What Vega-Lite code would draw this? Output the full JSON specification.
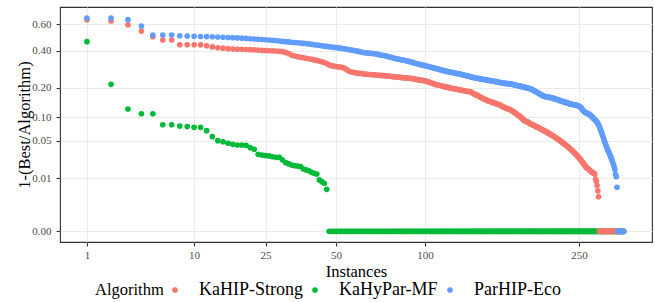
{
"$schema":"https://vega.github.io/schema/vega-lite/v6.json",
"width":592,"height":235,
"autosize":{"type":"none"},
"padding":{"left":60,"top":7,"right":3,"bottom":60},
"background":"white",
"config":{
"view":{"stroke":"#333333","strokeWidth":1.1},
"font":"Liberation Serif",
"axis":{"labelFont":"Liberation Serif","labelFontSize":11,"labelColor":"#4D4D4D","titleFont":"Liberation Serif","titleFontSize":16.5,"titleFontWeight":"normal","titleColor":"#000000","tickColor":"#333333","tickSize":4,"tickWidth":1.1,"domain":false,"grid":true,"gridColor":"#EBEBEB","gridWidth":1.1,"labelFlush":false,"labelOverlap":false},
"axisX":{"labelPadding":3,"titlePadding":3},
"axisY":{"labelPadding":5,"titlePadding":-1},
"legend":{"orient":"none","legendX":35,"legendY":274,"direction":"horizontal","titleOrient":"left","titleFont":"Liberation Serif","titleFontSize":16.5,"titleFontWeight":"normal","titleColor":"#000000","labelFont":"Liberation Serif","labelFontSize":18,"labelColor":"#000000","symbolType":"circle","symbolSize":32,"symbolStrokeWidth":0,"symbolOpacity":1,"labelOffset":15,"columnPadding":3,"titlePadding":2,"padding":0}
},
"datasets":{
"KaHyPar-MF":[{"i":1,"v":0.462},{"i":2,"v":0.215},{"i":3,"v":0.124},{"i":4,"v":0.110},{"i":5,"v":0.110},{"i":6,"v":0.082},{"i":7,"v":0.082},{"i":8,"v":0.079},{"i":9,"v":0.0778},{"i":10,"v":0.0762},{"i":11,"v":0.0762},{"i":12,"v":0.069},{"i":13,"v":0.0574},{"i":14,"v":0.0504},{"i":15,"v":0.0487},{"i":16,"v":0.0462},{"i":17,"v":0.0446},{"i":18,"v":0.0436},{"i":19,"v":0.0436},{"i":20,"v":0.043},{"i":21,"v":0.0396},{"i":22,"v":0.0374},{"i":23,"v":0.0309},{"i":24,"v":0.0301},{"i":25,"v":0.0294},{"i":26,"v":0.029},{"i":27,"v":0.0281},{"i":28,"v":0.0274},{"i":29,"v":0.0274},{"i":30,"v":0.0246},{"i":31,"v":0.0219},{"i":32,"v":0.0207},{"i":33,"v":0.0197},{"i":34,"v":0.0191},{"i":35,"v":0.0188},{"i":36,"v":0.0183},{"i":37,"v":0.0164},{"i":38,"v":0.0157},{"i":39,"v":0.015},{"i":40,"v":0.0139},{"i":41,"v":0.0132},{"i":42,"v":0.01275},{"i":43,"v":0.0092},{"i":44,"v":0.0083},{"i":45,"v":0.0075},{"i":46,"v":0.005},
{"i":47,"v":0},{"i":48,"v":0},{"i":49,"v":0},{"i":50,"v":0},{"i":51,"v":0},{"i":52,"v":0},{"i":53,"v":0},{"i":54,"v":0},{"i":55,"v":0},{"i":56,"v":0},{"i":57,"v":0},{"i":58,"v":0},{"i":59,"v":0},{"i":60,"v":0},{"i":61,"v":0},{"i":62,"v":0},{"i":63,"v":0},{"i":64,"v":0},{"i":65,"v":0},{"i":66,"v":0},{"i":67,"v":0},{"i":68,"v":0},{"i":69,"v":0},{"i":70,"v":0},{"i":71,"v":0},{"i":72,"v":0},{"i":73,"v":0},{"i":74,"v":0},{"i":75,"v":0},{"i":76,"v":0},{"i":77,"v":0},{"i":78,"v":0},{"i":79,"v":0},{"i":80,"v":0},{"i":81,"v":0},{"i":82,"v":0},{"i":83,"v":0},{"i":84,"v":0},{"i":85,"v":0},{"i":86,"v":0},{"i":87,"v":0},{"i":88,"v":0},{"i":89,"v":0},{"i":90,"v":0},{"i":91,"v":0},{"i":92,"v":0},{"i":93,"v":0},{"i":94,"v":0},{"i":95,"v":0},{"i":96,"v":0},{"i":97,"v":0},{"i":98,"v":0},{"i":99,"v":0},{"i":100,"v":0},
{"i":101,"v":0},{"i":102,"v":0},{"i":103,"v":0},{"i":104,"v":0},{"i":105,"v":0},{"i":106,"v":0},{"i":107,"v":0},{"i":108,"v":0},{"i":109,"v":0},{"i":110,"v":0},{"i":111,"v":0},{"i":112,"v":0},{"i":113,"v":0},{"i":114,"v":0},{"i":115,"v":0},{"i":116,"v":0},{"i":117,"v":0},{"i":118,"v":0},{"i":119,"v":0},{"i":120,"v":0},{"i":121,"v":0},{"i":122,"v":0},{"i":123,"v":0},{"i":124,"v":0},{"i":125,"v":0},{"i":126,"v":0},{"i":127,"v":0},{"i":128,"v":0},{"i":129,"v":0},{"i":130,"v":0},{"i":131,"v":0},{"i":132,"v":0},{"i":133,"v":0},{"i":134,"v":0},{"i":135,"v":0},{"i":136,"v":0},{"i":137,"v":0},{"i":138,"v":0},{"i":139,"v":0},{"i":140,"v":0},{"i":141,"v":0},{"i":142,"v":0},{"i":143,"v":0},{"i":144,"v":0},{"i":145,"v":0},{"i":146,"v":0},{"i":147,"v":0},{"i":148,"v":0},{"i":149,"v":0},{"i":150,"v":0},
{"i":151,"v":0},{"i":152,"v":0},{"i":153,"v":0},{"i":154,"v":0},{"i":155,"v":0},{"i":156,"v":0},{"i":157,"v":0},{"i":158,"v":0},{"i":159,"v":0},{"i":160,"v":0},{"i":161,"v":0},{"i":162,"v":0},{"i":163,"v":0},{"i":164,"v":0},{"i":165,"v":0},{"i":166,"v":0},{"i":167,"v":0},{"i":168,"v":0},{"i":169,"v":0},{"i":170,"v":0},{"i":171,"v":0},{"i":172,"v":0},{"i":173,"v":0},{"i":174,"v":0},{"i":175,"v":0},{"i":176,"v":0},{"i":177,"v":0},{"i":178,"v":0},{"i":179,"v":0},{"i":180,"v":0},{"i":181,"v":0},{"i":182,"v":0},{"i":183,"v":0},{"i":184,"v":0},{"i":185,"v":0},{"i":186,"v":0},{"i":187,"v":0},{"i":188,"v":0},{"i":189,"v":0},{"i":190,"v":0},{"i":191,"v":0},{"i":192,"v":0},{"i":193,"v":0},{"i":194,"v":0},{"i":195,"v":0},{"i":196,"v":0},{"i":197,"v":0},{"i":198,"v":0},{"i":199,"v":0},{"i":200,"v":0},
{"i":201,"v":0},{"i":202,"v":0},{"i":203,"v":0},{"i":204,"v":0},{"i":205,"v":0},{"i":206,"v":0},{"i":207,"v":0},{"i":208,"v":0},{"i":209,"v":0},{"i":210,"v":0},{"i":211,"v":0},{"i":212,"v":0},{"i":213,"v":0},{"i":214,"v":0},{"i":215,"v":0},{"i":216,"v":0},{"i":217,"v":0},{"i":218,"v":0},{"i":219,"v":0},{"i":220,"v":0},{"i":221,"v":0},{"i":222,"v":0},{"i":223,"v":0},{"i":224,"v":0},{"i":225,"v":0},{"i":226,"v":0},{"i":227,"v":0},{"i":228,"v":0},{"i":229,"v":0},{"i":230,"v":0},{"i":231,"v":0},{"i":232,"v":0},{"i":233,"v":0},{"i":234,"v":0},{"i":235,"v":0},{"i":236,"v":0},{"i":237,"v":0},{"i":238,"v":0},{"i":239,"v":0},{"i":240,"v":0},{"i":241,"v":0},{"i":242,"v":0},{"i":243,"v":0},{"i":244,"v":0},{"i":245,"v":0},{"i":246,"v":0},{"i":247,"v":0},{"i":248,"v":0},{"i":249,"v":0},{"i":250,"v":0},
{"i":251,"v":0},{"i":252,"v":0},{"i":253,"v":0},{"i":254,"v":0},{"i":255,"v":0},{"i":256,"v":0},{"i":257,"v":0},{"i":258,"v":0},{"i":259,"v":0},{"i":260,"v":0},{"i":261,"v":0},{"i":262,"v":0},{"i":263,"v":0},{"i":264,"v":0},{"i":265,"v":0},{"i":266,"v":0},{"i":267,"v":0},{"i":268,"v":0},{"i":269,"v":0},{"i":270,"v":0},{"i":271,"v":0},{"i":272,"v":0},{"i":273,"v":0},{"i":274,"v":0},{"i":275,"v":0},{"i":276,"v":0},{"i":277,"v":0},{"i":278,"v":0},{"i":279,"v":0},{"i":280,"v":0},{"i":281,"v":0},{"i":282,"v":0},{"i":283,"v":0},{"i":284,"v":0},{"i":285,"v":0},{"i":286,"v":0},{"i":287,"v":0},{"i":288,"v":0},{"i":289,"v":0},{"i":290,"v":0},{"i":291,"v":0},{"i":292,"v":0},{"i":293,"v":0},{"i":294,"v":0},{"i":295,"v":0},{"i":296,"v":0},{"i":297,"v":0},{"i":298,"v":0},{"i":299,"v":0},{"i":300,"v":0},{"i":301,"v":0},{"i":302,"v":0},{"i":303,"v":0},{"i":304,"v":0},{"i":305,"v":0},{"i":306,"v":0},{"i":307,"v":0},{"i":308,"v":0},{"i":309,"v":0},{"i":310,"v":0},{"i":311,"v":0},{"i":312,"v":0}],
"KaHIP-Strong":[{"i":1,"v":0.642},{"i":2,"v":0.630},{"i":3,"v":0.597},{"i":4,"v":0.544},{"i":5,"v":0.499},{"i":6,"v":0.474},{"i":7,"v":0.474},{"i":8,"v":0.440},{"i":9,"v":0.440},{"i":10,"v":0.440},{"i":11,"v":0.439},{"i":12,"v":0.433},{"i":13,"v":0.425},{"i":14,"v":0.419},{"i":15,"v":0.416},{"i":16,"v":0.413},{"i":17,"v":0.410},{"i":18,"v":0.409},{"i":19,"v":0.408},{"i":20,"v":0.407},{"i":21,"v":0.406},{"i":22,"v":0.405},{"i":23,"v":0.403},{"i":24,"v":0.401},{"i":25,"v":0.400},{"i":26,"v":0.399},{"i":27,"v":0.398},{"i":28,"v":0.397},{"i":29,"v":0.395},{"i":30,"v":0.393},{"i":31,"v":0.388},{"i":32,"v":0.380},{"i":33,"v":0.370},{"i":34,"v":0.365},{"i":35,"v":0.361},{"i":36,"v":0.357},{"i":37,"v":0.354},{"i":38,"v":0.351},{"i":39,"v":0.348},{"i":40,"v":0.345},{"i":41,"v":0.341},{"i":42,"v":0.338},{"i":43,"v":0.334},{"i":44,"v":0.330},{"i":45,"v":0.326},{"i":46,"v":0.320},{"i":47,"v":0.312},{"i":48,"v":0.308},{"i":49,"v":0.305},{"i":50,"v":0.303},
{"i":51,"v":0.301},{"i":52,"v":0.300},{"i":53,"v":0.298},{"i":54,"v":0.292},{"i":55,"v":0.285},{"i":56,"v":0.278},{"i":57,"v":0.274},{"i":58,"v":0.272},{"i":59,"v":0.270},{"i":60,"v":0.268},{"i":61,"v":0.267},{"i":62,"v":0.266},{"i":63,"v":0.264},{"i":64,"v":0.263},{"i":65,"v":0.262},{"i":66,"v":0.261},{"i":67,"v":0.261},{"i":68,"v":0.260},{"i":69,"v":0.259},{"i":70,"v":0.258},{"i":71,"v":0.257},{"i":72,"v":0.257},{"i":73,"v":0.256},{"i":74,"v":0.256},{"i":75,"v":0.255},{"i":76,"v":0.254},{"i":77,"v":0.253},{"i":78,"v":0.252},{"i":79,"v":0.251},{"i":80,"v":0.250},{"i":81,"v":0.249},{"i":82,"v":0.249},{"i":83,"v":0.248},{"i":84,"v":0.247},{"i":85,"v":0.246},{"i":86,"v":0.245},{"i":87,"v":0.245},{"i":88,"v":0.244},{"i":89,"v":0.244},{"i":90,"v":0.243},{"i":91,"v":0.242},{"i":92,"v":0.240},{"i":93,"v":0.239},{"i":94,"v":0.238},{"i":95,"v":0.236},{"i":96,"v":0.235},{"i":97,"v":0.234},{"i":98,"v":0.233},{"i":99,"v":0.232},{"i":100,"v":0.231},
{"i":101,"v":0.229},{"i":102,"v":0.227},{"i":103,"v":0.225},{"i":104,"v":0.222},{"i":105,"v":0.220},{"i":106,"v":0.218},{"i":107,"v":0.216},{"i":108,"v":0.214},{"i":109,"v":0.212},{"i":110,"v":0.211},{"i":111,"v":0.210},{"i":112,"v":0.209},{"i":113,"v":0.207},{"i":114,"v":0.205},{"i":115,"v":0.204},{"i":116,"v":0.203},{"i":117,"v":0.202},{"i":118,"v":0.200},{"i":119,"v":0.199},{"i":120,"v":0.198},{"i":121,"v":0.197},{"i":122,"v":0.196},{"i":123,"v":0.195},{"i":124,"v":0.194},{"i":125,"v":0.193},{"i":126,"v":0.192},{"i":127,"v":0.191},{"i":128,"v":0.190},{"i":129,"v":0.189},{"i":130,"v":0.188},{"i":131,"v":0.187},{"i":132,"v":0.186},{"i":133,"v":0.185},{"i":134,"v":0.185},{"i":135,"v":0.184},{"i":136,"v":0.182},{"i":137,"v":0.179},{"i":138,"v":0.176},{"i":139,"v":0.174},{"i":140,"v":0.172},{"i":141,"v":0.171},{"i":142,"v":0.168},{"i":143,"v":0.165},{"i":144,"v":0.163},{"i":145,"v":0.161},{"i":146,"v":0.159},{"i":147,"v":0.157},{"i":148,"v":0.155},{"i":149,"v":0.153},{"i":150,"v":0.152},
{"i":151,"v":0.150},{"i":152,"v":0.149},{"i":153,"v":0.148},{"i":154,"v":0.146},{"i":155,"v":0.145},{"i":156,"v":0.144},{"i":157,"v":0.143},{"i":158,"v":0.141},{"i":159,"v":0.140},{"i":160,"v":0.139},{"i":161,"v":0.138},{"i":162,"v":0.136},{"i":163,"v":0.134},{"i":164,"v":0.132},{"i":165,"v":0.130},{"i":166,"v":0.129},{"i":167,"v":0.128},{"i":168,"v":0.126},{"i":169,"v":0.125},{"i":170,"v":0.124},{"i":171,"v":0.123},{"i":172,"v":0.121},{"i":173,"v":0.120},{"i":174,"v":0.118},{"i":175,"v":0.116},{"i":176,"v":0.114},{"i":177,"v":0.112},{"i":178,"v":0.110},{"i":179,"v":0.108},{"i":180,"v":0.106},{"i":181,"v":0.104},{"i":182,"v":0.102},{"i":183,"v":0.100},{"i":184,"v":0.097},{"i":185,"v":0.095},{"i":186,"v":0.093},{"i":187,"v":0.091},{"i":188,"v":0.090},{"i":189,"v":0.089},{"i":190,"v":0.088},{"i":191,"v":0.087},{"i":192,"v":0.085},{"i":193,"v":0.084},{"i":194,"v":0.083},{"i":195,"v":0.082},{"i":196,"v":0.081},{"i":197,"v":0.080},{"i":198,"v":0.079},{"i":199,"v":0.078},{"i":200,"v":0.077},
{"i":201,"v":0.076},{"i":202,"v":0.075},{"i":203,"v":0.074},{"i":204,"v":0.073},{"i":205,"v":0.072},{"i":206,"v":0.071},{"i":207,"v":0.070},{"i":208,"v":0.069},{"i":209,"v":0.068},{"i":210,"v":0.067},{"i":211,"v":0.066},{"i":212,"v":0.065},{"i":213,"v":0.064},{"i":214,"v":0.063},{"i":215,"v":0.062},{"i":216,"v":0.061},{"i":217,"v":0.060},{"i":218,"v":0.059},{"i":219,"v":0.058},{"i":220,"v":0.057},{"i":221,"v":0.056},{"i":222,"v":0.055},{"i":223,"v":0.054},{"i":224,"v":0.053},{"i":225,"v":0.052},{"i":226,"v":0.051},{"i":227,"v":0.050},{"i":228,"v":0.049},{"i":229,"v":0.048},{"i":230,"v":0.047},{"i":231,"v":0.046},{"i":232,"v":0.045},{"i":233,"v":0.044},{"i":234,"v":0.043},{"i":235,"v":0.042},{"i":236,"v":0.041},{"i":237,"v":0.040},{"i":238,"v":0.039},{"i":239,"v":0.038},{"i":240,"v":0.037},{"i":241,"v":0.036},{"i":242,"v":0.035},{"i":243,"v":0.034},{"i":244,"v":0.033},{"i":245,"v":0.032},{"i":246,"v":0.031},{"i":247,"v":0.030},{"i":248,"v":0.029},{"i":249,"v":0.028},{"i":250,"v":0.027},
{"i":251,"v":0.026},{"i":252,"v":0.025},{"i":253,"v":0.024},{"i":254,"v":0.023},{"i":255,"v":0.022},{"i":256,"v":0.021},{"i":257,"v":0.020},{"i":258,"v":0.019},{"i":259,"v":0.018},{"i":260,"v":0.0175},{"i":261,"v":0.017},{"i":262,"v":0.0165},{"i":263,"v":0.016},{"i":264,"v":0.0155},{"i":265,"v":0.015},{"i":266,"v":0.0145},{"i":267,"v":0.014},{"i":268,"v":0.0137},{"i":269,"v":0.0134},{"i":270,"v":0.013},{"i":271,"v":0.0125},{"i":272,"v":0.0095},{"i":273,"v":0.0085},{"i":274,"v":0.0065},{"i":275,"v":0.0045},{"i":276,"v":0.0028},{"i":277,"v":0},{"i":278,"v":0},{"i":279,"v":0},{"i":280,"v":0},{"i":281,"v":0},{"i":282,"v":0},{"i":283,"v":0},{"i":284,"v":0},{"i":285,"v":0},{"i":286,"v":0},{"i":287,"v":0},{"i":288,"v":0},{"i":289,"v":0},{"i":290,"v":0},{"i":291,"v":0},{"i":292,"v":0},{"i":293,"v":0},{"i":294,"v":0},{"i":295,"v":0},{"i":296,"v":0},{"i":297,"v":0},{"i":298,"v":0},{"i":299,"v":0},{"i":300,"v":0},{"i":301,"v":0},{"i":302,"v":0},{"i":303,"v":0},{"i":304,"v":0},{"i":305,"v":0},{"i":306,"v":0},{"i":307,"v":0},{"i":308,"v":0},{"i":309,"v":0},{"i":310,"v":0},{"i":311,"v":0},{"i":312,"v":0}],
"ParHIP-Eco":[{"i":1,"v":0.657},{"i":2,"v":0.657},{"i":3,"v":0.642},{"i":4,"v":0.586},{"i":5,"v":0.5125},{"i":6,"v":0.5125},{"i":7,"v":0.5125},{"i":8,"v":0.507},{"i":9,"v":0.505},{"i":10,"v":0.503},{"i":11,"v":0.501},{"i":12,"v":0.500},{"i":13,"v":0.499},{"i":14,"v":0.497},{"i":15,"v":0.495},{"i":16,"v":0.493},{"i":17,"v":0.492},{"i":18,"v":0.490},{"i":19,"v":0.488},{"i":20,"v":0.486},{"i":21,"v":0.484},{"i":22,"v":0.482},{"i":23,"v":0.480},{"i":24,"v":0.478},{"i":25,"v":0.476},{"i":26,"v":0.474},{"i":27,"v":0.472},{"i":28,"v":0.470},{"i":29,"v":0.467},{"i":30,"v":0.464},{"i":31,"v":0.462},{"i":32,"v":0.460},{"i":33,"v":0.458},{"i":34,"v":0.456},{"i":35,"v":0.454},{"i":36,"v":0.452},{"i":37,"v":0.450},{"i":38,"v":0.448},{"i":39,"v":0.446},{"i":40,"v":0.443},{"i":41,"v":0.440},{"i":42,"v":0.438},{"i":43,"v":0.436},{"i":44,"v":0.433},{"i":45,"v":0.430},{"i":46,"v":0.428},{"i":47,"v":0.426},{"i":48,"v":0.424},{"i":49,"v":0.422},{"i":50,"v":0.420},
{"i":51,"v":0.418},{"i":52,"v":0.416},{"i":53,"v":0.414},{"i":54,"v":0.412},{"i":55,"v":0.409},{"i":56,"v":0.406},{"i":57,"v":0.404},{"i":58,"v":0.402},{"i":59,"v":0.399},{"i":60,"v":0.396},{"i":61,"v":0.393},{"i":62,"v":0.390},{"i":63,"v":0.387},{"i":64,"v":0.385},{"i":65,"v":0.384},{"i":66,"v":0.383},{"i":67,"v":0.382},{"i":68,"v":0.381},{"i":69,"v":0.379},{"i":70,"v":0.377},{"i":71,"v":0.375},{"i":72,"v":0.372},{"i":73,"v":0.370},{"i":74,"v":0.368},{"i":75,"v":0.366},{"i":76,"v":0.363},{"i":77,"v":0.360},{"i":78,"v":0.357},{"i":79,"v":0.354},{"i":80,"v":0.351},{"i":81,"v":0.349},{"i":82,"v":0.347},{"i":83,"v":0.345},{"i":84,"v":0.343},{"i":85,"v":0.341},{"i":86,"v":0.339},{"i":87,"v":0.337},{"i":88,"v":0.335},{"i":89,"v":0.332},{"i":90,"v":0.330},{"i":91,"v":0.328},{"i":92,"v":0.325},{"i":93,"v":0.322},{"i":94,"v":0.320},{"i":95,"v":0.318},{"i":96,"v":0.316},{"i":97,"v":0.314},{"i":98,"v":0.312},{"i":99,"v":0.310},{"i":100,"v":0.308},
{"i":101,"v":0.306},{"i":102,"v":0.304},{"i":103,"v":0.302},{"i":104,"v":0.300},{"i":105,"v":0.298},{"i":106,"v":0.296},{"i":107,"v":0.294},{"i":108,"v":0.292},{"i":109,"v":0.290},{"i":110,"v":0.288},{"i":111,"v":0.286},{"i":112,"v":0.284},{"i":113,"v":0.282},{"i":114,"v":0.280},{"i":115,"v":0.279},{"i":116,"v":0.277},{"i":117,"v":0.276},{"i":118,"v":0.274},{"i":119,"v":0.273},{"i":120,"v":0.272},{"i":121,"v":0.270},{"i":122,"v":0.269},{"i":123,"v":0.268},{"i":124,"v":0.266},{"i":125,"v":0.265},{"i":126,"v":0.264},{"i":127,"v":0.262},{"i":128,"v":0.261},{"i":129,"v":0.259},{"i":130,"v":0.258},{"i":131,"v":0.256},{"i":132,"v":0.255},{"i":133,"v":0.253},{"i":134,"v":0.252},{"i":135,"v":0.250},{"i":136,"v":0.249},{"i":137,"v":0.247},{"i":138,"v":0.246},{"i":139,"v":0.245},{"i":140,"v":0.244},{"i":141,"v":0.243},{"i":142,"v":0.242},{"i":143,"v":0.241},{"i":144,"v":0.240},{"i":145,"v":0.239},{"i":146,"v":0.238},{"i":147,"v":0.237},{"i":148,"v":0.236},{"i":149,"v":0.235},{"i":150,"v":0.234},
{"i":151,"v":0.233},{"i":152,"v":0.232},{"i":153,"v":0.232},{"i":154,"v":0.231},{"i":155,"v":0.230},{"i":156,"v":0.229},{"i":157,"v":0.228},{"i":158,"v":0.227},{"i":159,"v":0.226},{"i":160,"v":0.225},{"i":161,"v":0.224},{"i":162,"v":0.223},{"i":163,"v":0.222},{"i":164,"v":0.222},{"i":165,"v":0.221},{"i":166,"v":0.220},{"i":167,"v":0.219},{"i":168,"v":0.219},{"i":169,"v":0.218},{"i":170,"v":0.218},{"i":171,"v":0.217},{"i":172,"v":0.217},{"i":173,"v":0.216},{"i":174,"v":0.215},{"i":175,"v":0.214},{"i":176,"v":0.213},{"i":177,"v":0.212},{"i":178,"v":0.211},{"i":179,"v":0.210},{"i":180,"v":0.209},{"i":181,"v":0.208},{"i":182,"v":0.207},{"i":183,"v":0.206},{"i":184,"v":0.205},{"i":185,"v":0.204},{"i":186,"v":0.203},{"i":187,"v":0.202},{"i":188,"v":0.201},{"i":189,"v":0.200},{"i":190,"v":0.199},{"i":191,"v":0.198},{"i":192,"v":0.197},{"i":193,"v":0.196},{"i":194,"v":0.194},{"i":195,"v":0.192},{"i":196,"v":0.190},{"i":197,"v":0.188},{"i":198,"v":0.186},{"i":199,"v":0.184},{"i":200,"v":0.182},
{"i":201,"v":0.180},{"i":202,"v":0.178},{"i":203,"v":0.176},{"i":204,"v":0.174},{"i":205,"v":0.172},{"i":206,"v":0.170},{"i":207,"v":0.168},{"i":208,"v":0.167},{"i":209,"v":0.166},{"i":210,"v":0.165},{"i":211,"v":0.165},{"i":212,"v":0.164},{"i":213,"v":0.163},{"i":214,"v":0.163},{"i":215,"v":0.162},{"i":216,"v":0.162},{"i":217,"v":0.161},{"i":218,"v":0.160},{"i":219,"v":0.159},{"i":220,"v":0.158},{"i":221,"v":0.157},{"i":222,"v":0.156},{"i":223,"v":0.155},{"i":224,"v":0.154},{"i":225,"v":0.153},{"i":226,"v":0.152},{"i":227,"v":0.151},{"i":228,"v":0.150},{"i":229,"v":0.149},{"i":230,"v":0.148},{"i":231,"v":0.147},{"i":232,"v":0.146},{"i":233,"v":0.145},{"i":234,"v":0.145},{"i":235,"v":0.144},{"i":236,"v":0.143},{"i":237,"v":0.142},{"i":238,"v":0.141},{"i":239,"v":0.140},{"i":240,"v":0.140},{"i":241,"v":0.139},{"i":242,"v":0.138},{"i":243,"v":0.138},{"i":244,"v":0.137},{"i":245,"v":0.137},{"i":246,"v":0.136},{"i":247,"v":0.136},{"i":248,"v":0.135},{"i":249,"v":0.134},{"i":250,"v":0.133},
{"i":251,"v":0.131},{"i":252,"v":0.129},{"i":253,"v":0.127},{"i":254,"v":0.124},{"i":255,"v":0.121},{"i":256,"v":0.118},{"i":257,"v":0.116},{"i":258,"v":0.114},{"i":259,"v":0.113},{"i":260,"v":0.112},{"i":261,"v":0.111},{"i":262,"v":0.110},{"i":263,"v":0.109},{"i":264,"v":0.108},{"i":265,"v":0.106},{"i":266,"v":0.104},{"i":267,"v":0.102},{"i":268,"v":0.100},{"i":269,"v":0.098},{"i":270,"v":0.096},{"i":271,"v":0.094},{"i":272,"v":0.092},{"i":273,"v":0.090},{"i":274,"v":0.088},{"i":275,"v":0.085},{"i":276,"v":0.082},{"i":277,"v":0.078},{"i":278,"v":0.074},{"i":279,"v":0.070},{"i":280,"v":0.066},{"i":281,"v":0.062},{"i":282,"v":0.058},{"i":283,"v":0.054},{"i":284,"v":0.050},{"i":285,"v":0.047},{"i":286,"v":0.044},{"i":287,"v":0.041},{"i":288,"v":0.038},{"i":289,"v":0.036},{"i":290,"v":0.034},{"i":291,"v":0.032},{"i":292,"v":0.030},{"i":293,"v":0.028},{"i":294,"v":0.026},{"i":295,"v":0.024},{"i":296,"v":0.022},{"i":297,"v":0.020},{"i":298,"v":0.018},{"i":299,"v":0.016},{"i":300,"v":0.0125},{"i":301,"v":0.011},{"i":302,"v":0.0058},{"i":303,"v":0},{"i":304,"v":0},{"i":305,"v":0},{"i":306,"v":0},{"i":307,"v":0},{"i":308,"v":0},{"i":309,"v":0},{"i":310,"v":0},{"i":311,"v":0},{"i":312,"v":0}]
},
"encoding":{
"x":{"field":"i","type":"quantitative","scale":{"type":"pow","exponent":0.3333333,"domain":[0.3582,355.9],"nice":false,"zero":false},"axis":{"values":[1,10,25,50,100,250],"format":"d","title":"Instances"}},
"y":{"field":"v","type":"quantitative","scale":{"type":"pow","exponent":0.3333333,"domain":[-0.000083,0.7646],"nice":false,"zero":false},"axis":{"values":[0,0.01,0.05,0.1,0.2,0.4,0.6],"format":".2f","title":"1-(Best/Algorithm)"}}
},
"layer":[
{"data":{"name":"KaHyPar-MF"},"mark":{"type":"circle","size":32,"opacity":1},"encoding":{"color":{"datum":"KaHyPar-MF","type":"nominal","title":"Algorithm","scale":{"domain":["KaHIP-Strong","KaHyPar-MF","ParHIP-Eco"],"range":["#F8766D","#00BA38","#619CFF"]}}}},
{"data":{"name":"KaHIP-Strong"},"mark":{"type":"circle","size":32,"opacity":1},"encoding":{"color":{"datum":"KaHIP-Strong","type":"nominal","title":"Algorithm","scale":{"domain":["KaHIP-Strong","KaHyPar-MF","ParHIP-Eco"],"range":["#F8766D","#00BA38","#619CFF"]}}}},
{"data":{"name":"ParHIP-Eco"},"mark":{"type":"circle","size":32,"opacity":1},"encoding":{"color":{"datum":"ParHIP-Eco","type":"nominal","title":"Algorithm","scale":{"domain":["KaHIP-Strong","KaHyPar-MF","ParHIP-Eco"],"range":["#F8766D","#00BA38","#619CFF"]}}}}
]
}
